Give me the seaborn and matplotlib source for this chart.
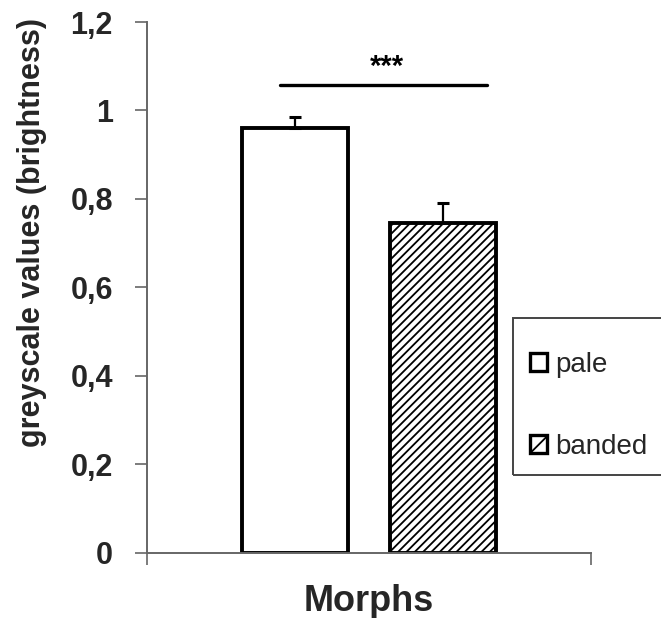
import pandas as pd
import numpy as np
import matplotlib.pyplot as plt
import matplotlib.patches as mpatches
import seaborn as sns

# --- data ---
morphs = ['pale', 'banded']
means = [0.96, 0.745]
sem = [0.025, 0.045]
y_ticks = [0, 0.2, 0.4, 0.6, 0.8, 1.0, 1.2]
y_ticklabels = ['0', '0,2', '0,4', '0,6', '0,8', '1', '1,2']

sns.set_theme(style="ticks")
plt.rcParams['font.family'] = ['Liberation Sans', 'DejaVu Sans']
plt.rcParams['hatch.linewidth'] = 1.3

df = pd.DataFrame({'morph': morphs, 'value': means})

fig = plt.figure(figsize=(6.61, 6.18), dpi=100)
ax = fig.add_axes([0.2224, 0.1052, 0.6717, 0.8592])

sns.barplot(data=df, x='morph', y='value', hue='morph', palette=['white', 'white'],
            edgecolor='black', linewidth=2.8, width=0.72, errorbar=None,
            legend=False, ax=ax)
ax.patches[1].set_hatch('////')

# upper error bars only
ax.errorbar(range(len(morphs)), means, yerr=[np.zeros(len(sem)), sem], fmt='none',
            ecolor='black', elinewidth=1.6, capsize=4, capthick=2.2, zorder=1)

# significance bar
ax.plot([-0.1, 1.3], [1.058, 1.058], color='black', lw=2.4)
ax.text(0.62, 1.13, '***', ha='center', va='top', fontsize=21, fontweight='bold', color='black')

ax.set_xlim(-1, 2)
ax.set_ylim(0, 1.2)
ax.set_xticks([-1, 2])
ax.set_xticklabels(['', ''])
ax.set_yticks(y_ticks)
ax.set_yticklabels(y_ticklabels, fontsize=22, fontweight='bold')
ax.tick_params(axis='both', direction='out', length=8.5, width=1.2, color='#666666')
ax.tick_params(axis='y', pad=16)

for s in ['top', 'right']:
    ax.spines[s].set_visible(False)
for s in ['left', 'bottom']:
    ax.spines[s].set_color('#666666')
    ax.spines[s].set_linewidth(1.4)

ax.set_xlabel('Morphs', fontsize=26, fontweight='bold')
ax.xaxis.set_label_coords(0.5, -0.058)
ax.set_ylabel('greyscale values (brightness)', fontsize=22, fontweight='bold')
ax.yaxis.set_label_coords(-0.225, 0.603)

# legend without its own frame; frame drawn as a separate box
handles = [mpatches.Patch(facecolor='white', edgecolor='black', linewidth=2.4, label='pale'),
           mpatches.Patch(facecolor='white', edgecolor='black', linewidth=2.4, hatch='//',
                          label='banded')]
fig.legend(handles=handles, loc='upper left', bbox_to_anchor=(530 / 661, 1 - 352 / 618),
           fontsize=20, frameon=False, handlelength=0.62, handleheight=0.62,
           handletextpad=0.3, labelspacing=2.0, borderpad=0, borderaxespad=0)
fig.patches.append(mpatches.Rectangle((513 / 661, 1 - 475 / 618), 160 / 661, 157 / 618,
                                      transform=fig.transFigure, facecolor='none',
                                      edgecolor='#444444', linewidth=1.4))

plt.savefig('out.png', dpi=100)
plt.close()
